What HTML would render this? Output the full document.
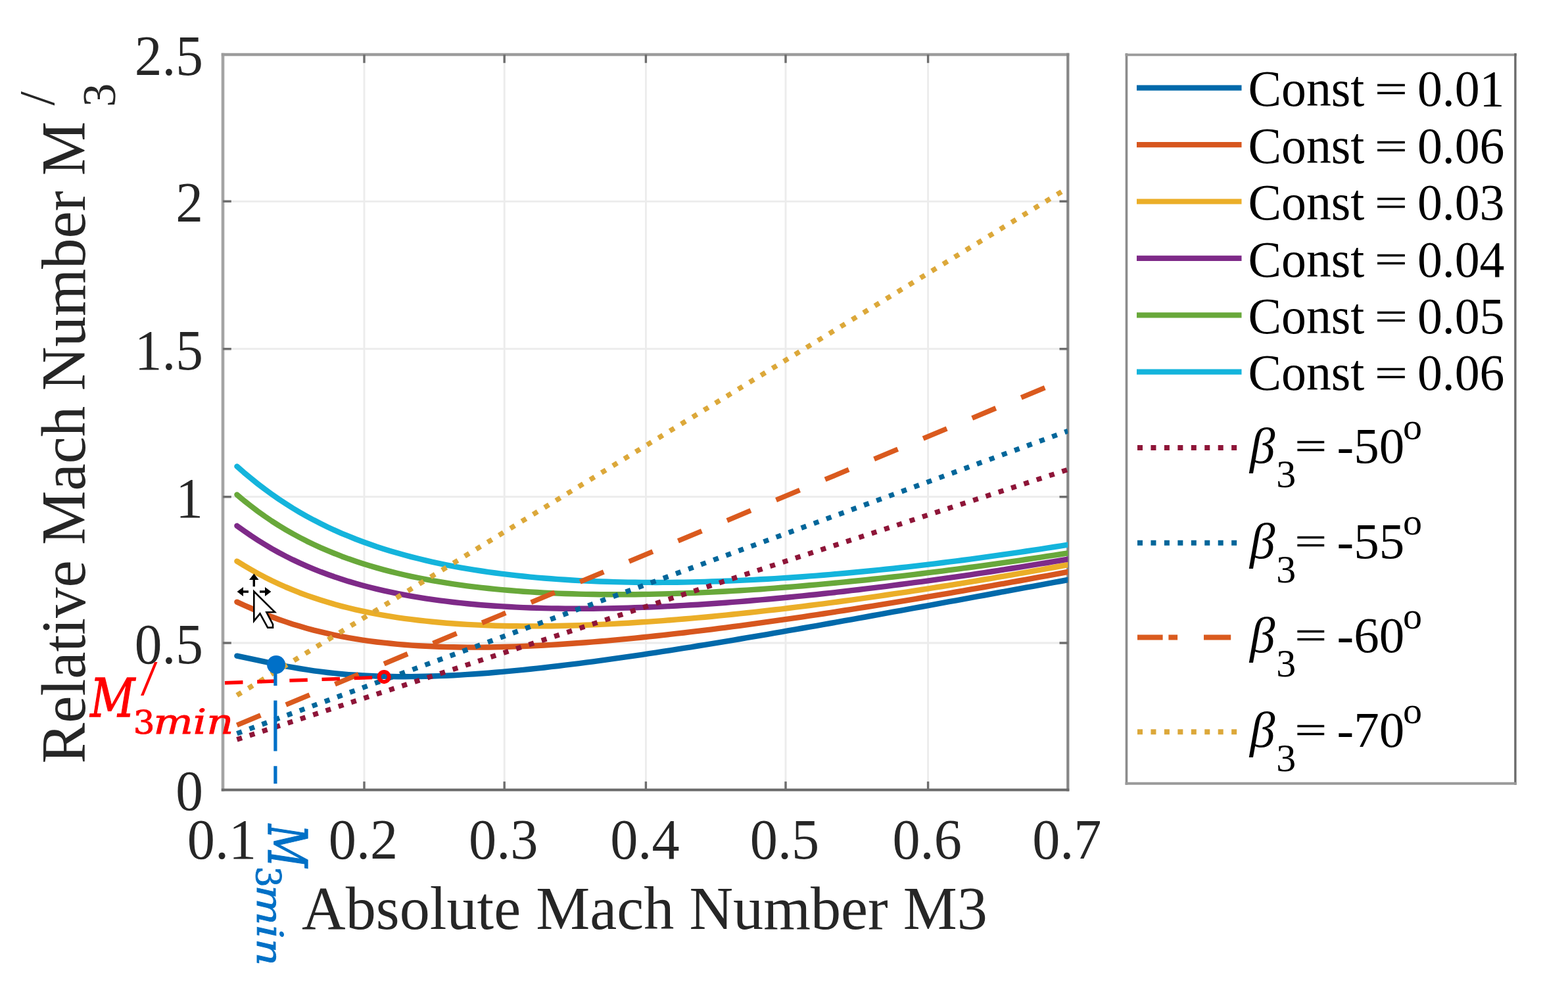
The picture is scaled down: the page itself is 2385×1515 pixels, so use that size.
<!DOCTYPE html>
<html><head><meta charset="utf-8"><title>Relative vs Absolute Mach Number</title>
<style>html,body{margin:0;padding:0;background:#fff;}svg{display:block;}</style></head>
<body>
<svg width="2385" height="1515" viewBox="0 0 2385 1515">
<rect width="100%" height="100%" fill="#ffffff"/>
<defs><clipPath id="ax"><rect x="339.0" y="83.0" width="1285.3" height="1118.5"/></clipPath></defs>
<path d="M554.0 83.0V1201.5 M767.2 83.0V1201.5 M982.4 83.0V1201.5 M1195.0 83.0V1201.5 M1411.6 83.0V1201.5 M339.0 978.0H1624.3 M339.0 755.7H1624.3 M339.0 530.7H1624.3 M339.0 306.3H1624.3" stroke="#ececec" stroke-width="2.8" fill="none"/>
<path d="M339.0 80.8V1203.5" stroke="#a4a4a4" stroke-width="4.6" fill="none"/>
<path d="M336.8 83.0H1626.3" stroke="#9c9c9c" stroke-width="4.6" fill="none"/>
<path d="M1624.3 80.8V1203.5" stroke="#868686" stroke-width="4.2" fill="none"/>
<path d="M336.8 1201.5H1626.3" stroke="#6a6a6a" stroke-width="4.2" fill="none"/>
<path d="M554.0 1201.5v-12.8 M554.0 83.0v12.8 M767.2 1201.5v-12.8 M767.2 83.0v12.8 M982.4 1201.5v-12.8 M982.4 83.0v12.8 M1195.0 1201.5v-12.8 M1195.0 83.0v12.8 M1411.6 1201.5v-12.8 M1411.6 83.0v12.8 M339.0 978.0h12.8 M1624.3 978.0h-12.8 M339.0 755.7h12.8 M1624.3 755.7h-12.8 M339.0 530.7h12.8 M1624.3 530.7h-12.8 M339.0 306.3h12.8 M1624.3 306.3h-12.8" stroke="#6e6e6e" stroke-width="3.4" fill="none"/>
<g clip-path="url(#ax)" fill="none">
<polyline points="360.4,997.6 371.0,999.8 381.7,1002.1 392.3,1004.4 402.9,1006.7 413.5,1009.0 424.1,1011.2 434.8,1013.3 445.4,1015.2 456.0,1017.0 466.6,1018.7 477.3,1020.3 487.9,1021.7 498.5,1023.0 509.1,1024.1 519.7,1025.2 530.4,1026.1 541.0,1026.8 551.6,1027.5 562.2,1028.0 572.8,1028.5 583.5,1028.8 594.1,1029.0 604.7,1029.2 615.3,1029.2 625.9,1029.1 636.6,1029.0 647.2,1028.8 657.8,1028.5 668.4,1028.1 679.0,1027.7 689.7,1027.2 700.3,1026.6 710.9,1025.9 721.5,1025.2 732.2,1024.5 742.8,1023.7 753.4,1022.8 764.0,1021.9 774.6,1020.9 785.3,1019.9 795.9,1018.9 806.5,1017.8 817.1,1016.6 827.7,1015.5 838.4,1014.2 849.0,1013.0 859.6,1011.7 870.2,1010.4 880.8,1009.1 891.5,1007.7 902.1,1006.3 912.7,1004.9 923.3,1003.4 933.9,1001.9 944.6,1000.4 955.2,998.9 965.8,997.3 976.4,995.8 987.1,994.2 997.7,992.6 1008.3,990.9 1018.9,989.3 1029.5,987.6 1040.2,985.9 1050.8,984.3 1061.4,982.5 1072.0,980.8 1082.6,979.1 1093.3,977.3 1103.9,975.6 1114.5,973.8 1125.1,972.0 1135.7,970.2 1146.4,968.4 1157.0,966.6 1167.6,964.8 1178.2,962.9 1188.8,961.1 1199.5,959.2 1210.1,957.4 1220.7,955.5 1231.3,953.6 1242.0,951.8 1252.6,949.9 1263.2,948.0 1273.8,946.1 1284.4,944.2 1295.1,942.3 1305.7,940.4 1316.3,938.5 1326.9,936.5 1337.5,934.6 1348.2,932.7 1358.8,930.7 1369.4,928.8 1380.0,926.9 1390.6,924.9 1401.3,923.0 1411.9,921.1 1422.5,919.1 1433.1,917.2 1443.7,915.2 1454.4,913.3 1465.0,911.3 1475.6,909.4 1486.2,907.4 1496.9,905.5 1507.5,903.5 1518.1,901.5 1528.7,899.6 1539.3,897.6 1550.0,895.7 1560.6,893.7 1571.2,891.8 1581.8,889.8 1592.4,887.9 1603.1,885.9 1613.7,884.0 1624.3,882.0" stroke="#0069aa" stroke-width="8.4" stroke-linecap="round" stroke-linejoin="round"/>
<polyline points="360.4,915.6 371.0,920.5 381.7,925.2 392.3,929.8 402.9,934.1 413.5,938.3 424.1,942.2 434.8,945.9 445.4,949.4 456.0,952.6 466.6,955.7 477.3,958.6 487.9,961.2 498.5,963.7 509.1,966.0 519.7,968.1 530.4,970.1 541.0,971.9 551.6,973.6 562.2,975.1 572.8,976.5 583.5,977.7 594.1,978.8 604.7,979.9 615.3,980.8 625.9,981.6 636.6,982.3 647.2,982.8 657.8,983.3 668.4,983.8 679.0,984.1 689.7,984.3 700.3,984.5 710.9,984.6 721.5,984.6 732.2,984.6 742.8,984.5 753.4,984.3 764.0,984.0 774.6,983.7 785.3,983.4 795.9,983.0 806.5,982.5 817.1,982.0 827.7,981.5 838.4,980.9 849.0,980.2 859.6,979.5 870.2,978.8 880.8,978.0 891.5,977.2 902.1,976.4 912.7,975.5 923.3,974.6 933.9,973.6 944.6,972.6 955.2,971.6 965.8,970.6 976.4,969.5 987.1,968.4 997.7,967.3 1008.3,966.1 1018.9,964.9 1029.5,963.7 1040.2,962.5 1050.8,961.2 1061.4,959.9 1072.0,958.6 1082.6,957.3 1093.3,955.9 1103.9,954.6 1114.5,953.2 1125.1,951.8 1135.7,950.3 1146.4,948.9 1157.0,947.4 1167.6,945.9 1178.2,944.4 1188.8,942.9 1199.5,941.4 1210.1,939.8 1220.7,938.3 1231.3,936.7 1242.0,935.1 1252.6,933.5 1263.2,931.8 1273.8,930.2 1284.4,928.5 1295.1,926.9 1305.7,925.2 1316.3,923.5 1326.9,921.8 1337.5,920.1 1348.2,918.3 1358.8,916.6 1369.4,914.9 1380.0,913.1 1390.6,911.3 1401.3,909.5 1411.9,907.7 1422.5,905.9 1433.1,904.1 1443.7,902.3 1454.4,900.4 1465.0,898.6 1475.6,896.7 1486.2,894.9 1496.9,893.0 1507.5,891.1 1518.1,889.2 1528.7,887.3 1539.3,885.4 1550.0,883.5 1560.6,881.6 1571.2,879.6 1581.8,877.7 1592.4,875.8 1603.1,873.8 1613.7,871.8 1624.3,869.9" stroke="#d7561e" stroke-width="8.4" stroke-linecap="round" stroke-linejoin="round"/>
<polyline points="360.4,853.7 371.0,860.2 381.7,866.4 392.3,872.3 402.9,877.9 413.5,883.2 424.1,888.2 434.8,893.0 445.4,897.4 456.0,901.7 466.6,905.6 477.3,909.3 487.9,912.8 498.5,916.1 509.1,919.2 519.7,922.1 530.4,924.8 541.0,927.3 551.6,929.7 562.2,931.9 572.8,934.0 583.5,935.9 594.1,937.7 604.7,939.3 615.3,940.8 625.9,942.2 636.6,943.5 647.2,944.7 657.8,945.8 668.4,946.8 679.0,947.7 689.7,948.5 700.3,949.2 710.9,949.9 721.5,950.4 732.2,950.9 742.8,951.3 753.4,951.7 764.0,952.0 774.6,952.2 785.3,952.3 795.9,952.4 806.5,952.4 817.1,952.4 827.7,952.3 838.4,952.2 849.0,952.0 859.6,951.8 870.2,951.5 880.8,951.2 891.5,950.8 902.1,950.4 912.7,949.9 923.3,949.4 933.9,948.9 944.6,948.3 955.2,947.7 965.8,947.0 976.4,946.3 987.1,945.6 997.7,944.9 1008.3,944.1 1018.9,943.2 1029.5,942.4 1040.2,941.5 1050.8,940.6 1061.4,939.6 1072.0,938.7 1082.6,937.7 1093.3,936.6 1103.9,935.6 1114.5,934.5 1125.1,933.4 1135.7,932.3 1146.4,931.1 1157.0,929.9 1167.6,928.7 1178.2,927.5 1188.8,926.3 1199.5,925.0 1210.1,923.7 1220.7,922.4 1231.3,921.0 1242.0,919.7 1252.6,918.3 1263.2,916.9 1273.8,915.5 1284.4,914.0 1295.1,912.6 1305.7,911.1 1316.3,909.6 1326.9,908.1 1337.5,906.6 1348.2,905.0 1358.8,903.4 1369.4,901.9 1380.0,900.3 1390.6,898.6 1401.3,897.0 1411.9,895.3 1422.5,893.7 1433.1,892.0 1443.7,890.3 1454.4,888.6 1465.0,886.8 1475.6,885.1 1486.2,883.3 1496.9,881.5 1507.5,879.8 1518.1,877.9 1528.7,876.1 1539.3,874.3 1550.0,872.4 1560.6,870.6 1571.2,868.7 1581.8,866.8 1592.4,864.9 1603.1,863.0 1613.7,861.0 1624.3,859.1" stroke="#ebae28" stroke-width="8.4" stroke-linecap="round" stroke-linejoin="round"/>
<polyline points="360.4,799.8 371.0,807.4 381.7,814.8 392.3,821.7 402.9,828.3 413.5,834.6 424.1,840.5 434.8,846.1 445.4,851.4 456.0,856.4 466.6,861.1 477.3,865.6 487.9,869.8 498.5,873.7 509.1,877.5 519.7,881.0 530.4,884.4 541.0,887.5 551.6,890.5 562.2,893.3 572.8,895.9 583.5,898.4 594.1,900.7 604.7,902.9 615.3,904.9 625.9,906.8 636.6,908.6 647.2,910.3 657.8,911.9 668.4,913.4 679.0,914.7 689.7,916.0 700.3,917.2 710.9,918.2 721.5,919.2 732.2,920.2 742.8,921.0 753.4,921.7 764.0,922.4 774.6,923.0 785.3,923.6 795.9,924.1 806.5,924.5 817.1,924.8 827.7,925.1 838.4,925.4 849.0,925.5 859.6,925.7 870.2,925.7 880.8,925.8 891.5,925.7 902.1,925.7 912.7,925.6 923.3,925.4 933.9,925.2 944.6,924.9 955.2,924.6 965.8,924.3 976.4,923.9 987.1,923.5 997.7,923.1 1008.3,922.6 1018.9,922.1 1029.5,921.5 1040.2,920.9 1050.8,920.3 1061.4,919.7 1072.0,919.0 1082.6,918.3 1093.3,917.5 1103.9,916.7 1114.5,915.9 1125.1,915.1 1135.7,914.2 1146.4,913.3 1157.0,912.4 1167.6,911.5 1178.2,910.5 1188.8,909.5 1199.5,908.5 1210.1,907.4 1220.7,906.4 1231.3,905.3 1242.0,904.2 1252.6,903.0 1263.2,901.9 1273.8,900.7 1284.4,899.5 1295.1,898.2 1305.7,897.0 1316.3,895.7 1326.9,894.4 1337.5,893.1 1348.2,891.8 1358.8,890.4 1369.4,889.0 1380.0,887.7 1390.6,886.2 1401.3,884.8 1411.9,883.4 1422.5,881.9 1433.1,880.4 1443.7,878.9 1454.4,877.4 1465.0,875.8 1475.6,874.3 1486.2,872.7 1496.9,871.1 1507.5,869.5 1518.1,867.8 1528.7,866.2 1539.3,864.5 1550.0,862.8 1560.6,861.1 1571.2,859.4 1581.8,857.7 1592.4,856.0 1603.1,854.2 1613.7,852.4 1624.3,850.6" stroke="#7e2a88" stroke-width="8.4" stroke-linecap="round" stroke-linejoin="round"/>
<polyline points="360.4,752.5 371.0,761.4 381.7,769.8 392.3,777.8 402.9,785.4 413.5,792.6 424.1,799.4 434.8,805.8 445.4,811.9 456.0,817.6 466.6,823.1 477.3,828.2 487.9,833.1 498.5,837.7 509.1,842.0 519.7,846.2 530.4,850.1 541.0,853.7 551.6,857.2 562.2,860.5 572.8,863.6 583.5,866.6 594.1,869.4 604.7,872.0 615.3,874.5 625.9,876.8 636.6,879.0 647.2,881.1 657.8,883.1 668.4,884.9 679.0,886.7 689.7,888.3 700.3,889.8 710.9,891.3 721.5,892.6 732.2,893.9 742.8,895.0 753.4,896.1 764.0,897.1 774.6,898.0 785.3,898.9 795.9,899.7 806.5,900.4 817.1,901.0 827.7,901.6 838.4,902.1 849.0,902.6 859.6,903.0 870.2,903.3 880.8,903.6 891.5,903.9 902.1,904.0 912.7,904.2 923.3,904.3 933.9,904.3 944.6,904.3 955.2,904.3 965.8,904.2 976.4,904.0 987.1,903.9 997.7,903.6 1008.3,903.4 1018.9,903.1 1029.5,902.8 1040.2,902.4 1050.8,902.0 1061.4,901.6 1072.0,901.1 1082.6,900.6 1093.3,900.0 1103.9,899.5 1114.5,898.9 1125.1,898.2 1135.7,897.6 1146.4,896.9 1157.0,896.2 1167.6,895.4 1178.2,894.6 1188.8,893.8 1199.5,893.0 1210.1,892.1 1220.7,891.2 1231.3,890.3 1242.0,889.4 1252.6,888.4 1263.2,887.4 1273.8,886.4 1284.4,885.4 1295.1,884.3 1305.7,883.3 1316.3,882.2 1326.9,881.0 1337.5,879.9 1348.2,878.7 1358.8,877.5 1369.4,876.3 1380.0,875.1 1390.6,873.8 1401.3,872.5 1411.9,871.2 1422.5,869.9 1433.1,868.6 1443.7,867.2 1454.4,865.8 1465.0,864.4 1475.6,863.0 1486.2,861.6 1496.9,860.1 1507.5,858.7 1518.1,857.2 1528.7,855.7 1539.3,854.1 1550.0,852.6 1560.6,851.0 1571.2,849.4 1581.8,847.8 1592.4,846.2 1603.1,844.6 1613.7,843.0 1624.3,841.3" stroke="#68a83a" stroke-width="8.4" stroke-linecap="round" stroke-linejoin="round"/>
<polyline points="360.4,709.4 371.0,718.7 381.7,727.6 392.3,736.1 402.9,744.2 413.5,751.9 424.1,759.3 434.8,766.3 445.4,773.0 456.0,779.3 466.6,785.3 477.3,791.1 487.9,796.5 498.5,801.7 509.1,806.6 519.7,811.3 530.4,815.7 541.0,820.0 551.6,824.0 562.2,827.8 572.8,831.5 583.5,834.9 594.1,838.2 604.7,841.3 615.3,844.3 625.9,847.1 636.6,849.8 647.2,852.4 657.8,854.8 668.4,857.1 679.0,859.3 689.7,861.3 700.3,863.3 710.9,865.1 721.5,866.9 732.2,868.5 742.8,870.1 753.4,871.5 764.0,872.9 774.6,874.2 785.3,875.4 795.9,876.5 806.5,877.6 817.1,878.6 827.7,879.5 838.4,880.3 849.0,881.1 859.6,881.8 870.2,882.5 880.8,883.1 891.5,883.6 902.1,884.1 912.7,884.5 923.3,884.8 933.9,885.1 944.6,885.4 955.2,885.6 965.8,885.8 976.4,885.9 987.1,885.9 997.7,886.0 1008.3,885.9 1018.9,885.9 1029.5,885.7 1040.2,885.6 1050.8,885.4 1061.4,885.1 1072.0,884.9 1082.6,884.5 1093.3,884.2 1103.9,883.8 1114.5,883.4 1125.1,882.9 1135.7,882.4 1146.4,881.9 1157.0,881.3 1167.6,880.7 1178.2,880.1 1188.8,879.4 1199.5,878.7 1210.1,878.0 1220.7,877.2 1231.3,876.4 1242.0,875.6 1252.6,874.7 1263.2,873.9 1273.8,872.9 1284.4,872.0 1295.1,871.0 1305.7,870.0 1316.3,869.0 1326.9,868.0 1337.5,866.9 1348.2,865.8 1358.8,864.7 1369.4,863.5 1380.0,862.3 1390.6,861.1 1401.3,859.9 1411.9,858.6 1422.5,857.3 1433.1,856.0 1443.7,854.7 1454.4,853.4 1465.0,852.0 1475.6,850.6 1486.2,849.1 1496.9,847.7 1507.5,846.2 1518.1,844.7 1528.7,843.2 1539.3,841.7 1550.0,840.1 1560.6,838.5 1571.2,836.9 1581.8,835.3 1592.4,833.7 1603.1,832.0 1613.7,830.3 1624.3,828.6" stroke="#14b4dc" stroke-width="8.4" stroke-linecap="round" stroke-linejoin="round"/>
<path d="M360.4 1124.9L1624.3 714.3" stroke="#8e1538" stroke-width="7.6" stroke-dasharray="8 12.3" stroke-linecap="butt"/>
<path d="M360.4 1115.7L1624.3 655.5" stroke="#00669a" stroke-width="7.6" stroke-dasharray="8 12.3" stroke-linecap="butt"/>
<path d="M360.4 1103.1L1624.3 575.1" stroke="#da5a1e" stroke-width="7.6" stroke-dasharray="39 41.8" stroke-linecap="butt"/>
<path d="M360.4 1057.6L1624.3 285.8" stroke="#dca83a" stroke-width="7.6" stroke-dasharray="8 12.3" stroke-linecap="butt"/>
</g>
<path d="M342 1038.7L573.5 1030.4" stroke="#ff0000" stroke-width="5.4" stroke-dasharray="27.5 21.7" fill="none"/>
<circle cx="584.2" cy="1029.6" r="7.6" stroke="#ff0000" stroke-width="6" fill="none"/>
<path d="M418.9 1010V1192" stroke="#0070c8" stroke-width="5.2" stroke-dasharray="33 22.6 77 22.6 77 22.6 77" fill="none"/>
<circle cx="420" cy="1011" r="14" fill="#0070c8"/>
<g font-family='"Liberation Serif", serif' font-size="86" fill="#262626">
<text transform="translate(309 1232.3) scale(0.97 1)" text-anchor="end">0</text>
<text transform="translate(309 1008.8) scale(0.97 1)" text-anchor="end">0.5</text>
<text transform="translate(309 786.5) scale(0.97 1)" text-anchor="end">1</text>
<text transform="translate(309 561.5) scale(0.97 1)" text-anchor="end">1.5</text>
<text transform="translate(309 337.1) scale(0.97 1)" text-anchor="end">2</text>
<text transform="translate(309 113.8) scale(0.97 1)" text-anchor="end">2.5</text>
<text transform="translate(337.5 1306.4) scale(0.98 1)" text-anchor="middle">0.1</text>
<text transform="translate(552.5 1306.4) scale(0.98 1)" text-anchor="middle">0.2</text>
<text transform="translate(765.7 1306.4) scale(0.98 1)" text-anchor="middle">0.3</text>
<text transform="translate(980.9 1306.4) scale(0.98 1)" text-anchor="middle">0.4</text>
<text transform="translate(1193.5 1306.4) scale(0.98 1)" text-anchor="middle">0.5</text>
<text transform="translate(1410.1 1306.4) scale(0.98 1)" text-anchor="middle">0.6</text>
<text transform="translate(1622.8 1306.4) scale(0.98 1)" text-anchor="middle">0.7</text>
</g>
<text font-family='"Liberation Serif", serif' font-size="92.5" fill="#262626" x="459" y="1412.6" textLength="1043" lengthAdjust="spacingAndGlyphs">Absolute Mach Number M3</text>
<text font-family='"Liberation Serif", serif' font-size="94.6" fill="#262626" transform="translate(128.5 1161.6) rotate(-90)" textLength="977" lengthAdjust="spacingAndGlyphs">Relative Mach Number M</text>
<text font-family='"Liberation Serif", serif' font-size="72" fill="#262626" transform="translate(175.3 162.7) rotate(-90)">3</text>
<text font-family='"Liberation Serif", serif' font-size="77" fill="#262626" transform="translate(82 160.4) rotate(-90)">/</text>
<rect x="1713.5" y="83.3" width="591.4" height="1108.4" fill="#ffffff" stroke="none"/>
<path d="M1713.5 81V1193.8" stroke="#8c8c8c" stroke-width="3.6" fill="none"/>
<path d="M1711.5 83.3H2307" stroke="#9a9a9a" stroke-width="3.8" fill="none"/>
<path d="M2304.9 81V1193.8" stroke="#6a6a6a" stroke-width="3.4" fill="none"/>
<path d="M1711.5 1191.7H2307" stroke="#9a9a9a" stroke-width="4" fill="none"/>
<path d="M1729 133.7H1888.5" stroke="#0069aa" stroke-width="8.2" fill="none"/>
<text font-family='"Liberation Serif", serif' font-size="78.5" fill="#000" transform="translate(1898.5 161.3) scale(0.965 1)">Const</text>
<text font-family='"Liberation Serif", serif' font-size="78.5" fill="#000" stroke="#000" stroke-width="0.7" transform="translate(2091.11 155.12) scale(1.1224 0.7643)">=</text>
<text font-family='"Liberation Serif", serif' font-size="78.5" fill="#000" transform="translate(2155.9 161.3) scale(0.965 1)">0.01</text>
<path d="M1729 220.1H1888.5" stroke="#d7561e" stroke-width="8.2" fill="none"/>
<text font-family='"Liberation Serif", serif' font-size="78.5" fill="#000" transform="translate(1898.5 247.7) scale(0.965 1)">Const</text>
<text font-family='"Liberation Serif", serif' font-size="78.5" fill="#000" stroke="#000" stroke-width="0.7" transform="translate(2091.11 241.52) scale(1.1224 0.7643)">=</text>
<text font-family='"Liberation Serif", serif' font-size="78.5" fill="#000" transform="translate(2155.9 247.7) scale(0.965 1)">0.06</text>
<path d="M1729 306.5H1888.5" stroke="#ebae28" stroke-width="8.2" fill="none"/>
<text font-family='"Liberation Serif", serif' font-size="78.5" fill="#000" transform="translate(1898.5 334.1) scale(0.965 1)">Const</text>
<text font-family='"Liberation Serif", serif' font-size="78.5" fill="#000" stroke="#000" stroke-width="0.7" transform="translate(2091.11 327.92) scale(1.1224 0.7643)">=</text>
<text font-family='"Liberation Serif", serif' font-size="78.5" fill="#000" transform="translate(2155.9 334.1) scale(0.965 1)">0.03</text>
<path d="M1729 392.9H1888.5" stroke="#7e2a88" stroke-width="8.2" fill="none"/>
<text font-family='"Liberation Serif", serif' font-size="78.5" fill="#000" transform="translate(1898.5 420.5) scale(0.965 1)">Const</text>
<text font-family='"Liberation Serif", serif' font-size="78.5" fill="#000" stroke="#000" stroke-width="0.7" transform="translate(2091.11 414.32) scale(1.1224 0.7643)">=</text>
<text font-family='"Liberation Serif", serif' font-size="78.5" fill="#000" transform="translate(2155.9 420.5) scale(0.965 1)">0.04</text>
<path d="M1729 479.3H1888.5" stroke="#68a83a" stroke-width="8.2" fill="none"/>
<text font-family='"Liberation Serif", serif' font-size="78.5" fill="#000" transform="translate(1898.5 506.9) scale(0.965 1)">Const</text>
<text font-family='"Liberation Serif", serif' font-size="78.5" fill="#000" stroke="#000" stroke-width="0.7" transform="translate(2091.11 500.72) scale(1.1224 0.7643)">=</text>
<text font-family='"Liberation Serif", serif' font-size="78.5" fill="#000" transform="translate(2155.9 506.9) scale(0.965 1)">0.05</text>
<path d="M1729 565.7H1888.5" stroke="#14b4dc" stroke-width="8.2" fill="none"/>
<text font-family='"Liberation Serif", serif' font-size="78.5" fill="#000" transform="translate(1898.5 593.3) scale(0.965 1)">Const</text>
<text font-family='"Liberation Serif", serif' font-size="78.5" fill="#000" stroke="#000" stroke-width="0.7" transform="translate(2091.11 587.12) scale(1.1224 0.7643)">=</text>
<text font-family='"Liberation Serif", serif' font-size="78.5" fill="#000" transform="translate(2155.9 593.3) scale(0.965 1)">0.06</text>
<path d="M1730 681.1H1890" stroke="#8e1538" stroke-width="8" stroke-dasharray="8 12.45" fill="none"/>
<text font-family='"Liberation Serif", serif' font-size="77" fill="#000" x="1901" y="703.9" font-style="italic">β</text>
<text font-family='"Liberation Serif", serif' font-size="60" fill="#000" x="1941.3" y="740.9">3</text>
<text font-family='"Liberation Serif", serif' font-size="78.5" fill="#000" stroke="#000" stroke-width="0.7" transform="translate(1969.61 699.18) scale(1.0978 0.7704)">=</text>
<text font-family='"Liberation Serif", serif' font-size="77" fill="#000" x="2033.6" y="703.9">-50</text>
<text font-family='"Liberation Serif", serif' font-size="58" fill="#000" x="2134" y="667.9">o</text>
<path d="M1730 825.8H1890" stroke="#00669a" stroke-width="8" stroke-dasharray="8 12.45" fill="none"/>
<text font-family='"Liberation Serif", serif' font-size="77" fill="#000" x="1901" y="848.6" font-style="italic">β</text>
<text font-family='"Liberation Serif", serif' font-size="60" fill="#000" x="1941.3" y="885.6">3</text>
<text font-family='"Liberation Serif", serif' font-size="78.5" fill="#000" stroke="#000" stroke-width="0.7" transform="translate(1969.61 843.88) scale(1.0978 0.7704)">=</text>
<text font-family='"Liberation Serif", serif' font-size="77" fill="#000" x="2033.6" y="848.6">-55</text>
<text font-family='"Liberation Serif", serif' font-size="58" fill="#000" x="2134" y="812.6">o</text>
<path d="M1730 969.4H1768.6M1777.4 969.4H1791.1M1831 969.4H1872.2" stroke="#da5a1e" stroke-width="8" fill="none"/>
<text font-family='"Liberation Serif", serif' font-size="77" fill="#000" x="1901" y="992.2" font-style="italic">β</text>
<text font-family='"Liberation Serif", serif' font-size="60" fill="#000" x="1941.3" y="1029.2">3</text>
<text font-family='"Liberation Serif", serif' font-size="78.5" fill="#000" stroke="#000" stroke-width="0.7" transform="translate(1969.61 987.48) scale(1.0978 0.7704)">=</text>
<text font-family='"Liberation Serif", serif' font-size="77" fill="#000" x="2033.6" y="992.2">-60</text>
<text font-family='"Liberation Serif", serif' font-size="58" fill="#000" x="2134" y="956.2">o</text>
<path d="M1730 1113.3H1890" stroke="#dca83a" stroke-width="8" stroke-dasharray="8 12.45" fill="none"/>
<text font-family='"Liberation Serif", serif' font-size="77" fill="#000" x="1901" y="1136.1" font-style="italic">β</text>
<text font-family='"Liberation Serif", serif' font-size="60" fill="#000" x="1941.3" y="1173.1">3</text>
<text font-family='"Liberation Serif", serif' font-size="78.5" fill="#000" stroke="#000" stroke-width="0.7" transform="translate(1969.61 1131.38) scale(1.0978 0.7704)">=</text>
<text font-family='"Liberation Serif", serif' font-size="77" fill="#000" x="2033.6" y="1136.1">-70</text>
<text font-family='"Liberation Serif", serif' font-size="58" fill="#000" x="2134" y="1100.1">o</text>
<text font-family='"DejaVu Serif", serif' font-style="italic" font-size="80.66" fill="#ff0000" transform="translate(137.31 1090.00) scale(0.8237 1)" stroke="#ff0000" stroke-width="1.3">M</text>
<text font-family='"Liberation Serif", serif' font-size="76.54" fill="#ff0000" transform="translate(213.90 1057.45) scale(1.1992 1)">/</text>
<text font-family='"DejaVu Serif", serif' font-size="48.52" fill="#ff0000" transform="translate(202.78 1116.31) scale(1.0605 1)" stroke="#ff0000" stroke-width="0.9">3</text>
<text font-family='"DejaVu Serif", serif' font-style="italic" font-size="52.46" fill="#ff0000" transform="translate(233.52 1116.00) scale(1.2135 1)" stroke="#ff0000" stroke-width="0.9">min</text>
<g transform="translate(408 0) rotate(90)">
<text font-family='"DejaVu Serif", serif' font-style="italic" font-size="82.44" fill="#0070c6" transform="translate(1253.67 0.00) scale(0.7785 1)" stroke="#0070c6" stroke-width="1.3">M</text>
<text font-family='"DejaVu Serif", serif' font-size="52.36" fill="#0070c6" transform="translate(1317.66 18.26) scale(0.9632 1)" stroke="#0070c6" stroke-width="0.9">3</text>
<text font-family='"DejaVu Serif", serif' font-style="italic" font-size="54.90" fill="#0070c6" transform="translate(1346.28 17.40) scale(1.1718 1)" stroke="#0070c6" stroke-width="0.9">min</text>
</g>
<g stroke-linejoin="miter">
<path d="M386.3 899.6L386.3 944.5L395.5 933.3L407.2 954.6L415 954.6L415 949.6L405.4 931.3L418 931Z" fill="#ffffff" stroke="#000" stroke-width="2.6"/>
<path d="M386.3 872.5L379 882H384.6V892.3H388V882H393.6Z M360.6 900L370 893V898.3H378V901.7H370V907Z M412.4 900L403 893V898.3H395V901.7H403V907Z" fill="#000"/>
</g>
</svg>
</body></html>
